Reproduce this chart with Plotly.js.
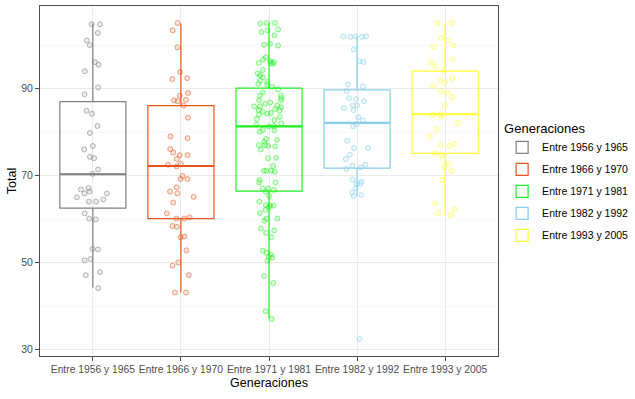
<!DOCTYPE html>
<html>
<head>
<meta charset="utf-8">
<script src="https://cdn.plot.ly/plotly-3.0.1.min.js"></script>
<style>
html,body{margin:0;padding:0;background:#fff;}
#chart{width:635px;height:399px;}
</style>
</head>
<body>
<div id="chart"></div>
<script>
// ---- data ----
const categories = ['Entre 1956 y 1965','Entre 1966 y 1970','Entre 1971 y 1981','Entre 1982 y 1992','Entre 1993 y 2005'];
const colors = ['#808080','#E8541E','#22F022','#87CEEB','#FFFF33'];

// box statistics
const q1Vals     = [62.5, 60.1, 66.4, 71.7, 75.1];
const medianVals = [70.3, 72.2, 81.3, 82.1, 84.1];
const q3Vals     = [87.0, 86.1, 90.1, 89.7, 94.0];
const lowerVals  = [44.2, 43.1, 37.1, 65.3, 60.9];
const upperVals  = [105.0, 105.0, 105.1, 102.1, 105.1];

// individual (jittered) observations
const gen1956 = [104.8,104.8,102.8,101.1,100.0,95.5,96.1,94.0,90.3,88.7,84.9,84.2,81.4,79.8,76.8,76.0,74.3,74.0,71.4,70.4,
  67.1,66.8,66.3,65.9,65.9,65.0,64.5,64.0,64.0,61.3,60.1,59.9,53.1,53.0,50.8,50.5,47.8,47.1,44.1];
const gen1966 = [105.1,103.4,99.5,93.8,92.4,92.2,89.0,88.4,87.4,87.3,87.1,86.1,83.3,79.0,78.6,76.1,75.3,74.7,74.7,73.8,
  72.7,72.5,72.1,69.9,69.2,69.2,67.3,66.3,65.9,65.1,63.8,61.3,60.4,60.1,60.1,58.4,58.2,56.0,55.8,52.8,50.0,49.3,47.1,43.1,43.1];
const gen1971 = [104.97,105.1,105.1,103.6,103.4,103.0,102.2,100.3,99.9,100.1,97.2,96.7,95.9,96.1,95.9,96.3,95.7,94.3,92.6,93.1,
  91.8,91.1,90.9,90.4,89.1,87.8,87.3,88.4,88.4,87.3,86.8,85.9,86.1,85.9,85.3,85.0,84.7,85.7,85.1,84.0,
  84.2,84.4,82.8,83.0,81.7,81.4,81.3,80.5,80.1,80.4,78.4,78.2,77.8,76.8,77.0,76.7,76.0,77.0,74.0,74.1,
  72.2,71.1,71.1,71.1,70.9,69.0,68.4,68.4,67.0,67.0,66.7,66.3,65.3,64.0,63.1,63.1,63.2,62.7,62.1,61.4,
  60.1,60.1,59.6,57.8,57.4,56.8,55.8,52.3,52.7,51.8,51.1,51.3,50.4,46.9,45.3,38.8,37.0,
  93.5,91.5,89.8,86.5,83.5,82.0];
const gen1982 = [101.9,102.0,102.0,102.0,101.9,99.0,96.3,96.1,90.9,90.5,89.4,87.8,87.6,87.1,86.1,86.2,85.5,85.0,83.4,82.7,
  81.9,81.3,78.0,76.3,76.3,74.8,73.8,72.5,72.3,71.9,71.5,69.1,68.6,68.1,68.1,67.1,66.1,65.5,65.3,32.4];
const gen1993 = [105.1,105.1,101.7,101.1,99.9,99.6,96.7,96.1,95.1,94.0,92.4,91.9,91.4,90.7,89.4,89.1,88.0,86.1,84.0,84.0,
  83.5,82.1,80.7,79.0,77.3,76.9,76.8,75.1,74.7,72.7,71.9,71.1,69.0,63.6,62.2,61.3,60.9];
const groups = [gen1956, gen1966, gen1971, gen1982, gen1993];

const yTickVals = [30, 50, 70, 90];

function rgba(hex, a){
  const n = parseInt(hex.slice(1), 16);
  return 'rgba(' + ((n>>16)&255) + ',' + ((n>>8)&255) + ',' + (n&255) + ',' + a + ')';
}

const BOXW = 0.75;
const traces = [];
categories.forEach((cat, i) => {
  traces.push({
    type: 'box',
    name: cat,
    x: [cat],
    q1: [q1Vals[i]], median: [medianVals[i]], q3: [q3Vals[i]],
    lowerfence: [lowerVals[i]], upperfence: [upperVals[i]],
    boxpoints: false,
    width: BOXW,
    fillcolor: 'rgba(255,255,255,0)',
    line: {color: colors[i], width: 1.2},
    whiskerwidth: 0,
    legendgroup: 'g' + i,
    hoverinfo: 'skip'
  });
});
// thicker median line (degenerate box at the median)
categories.forEach((cat, i) => {
  traces.push({
    type: 'box',
    name: cat,
    x: [cat],
    q1: [medianVals[i]], median: [medianVals[i]], q3: [medianVals[i]],
    lowerfence: [medianVals[i]], upperfence: [medianVals[i]],
    boxpoints: false,
    width: BOXW,
    fillcolor: 'rgba(255,255,255,0)',
    line: {color: colors[i], width: 2.2},
    whiskerwidth: 0,
    showlegend: false,
    legendgroup: 'g' + i,
    hoverinfo: 'skip'
  });
});
categories.forEach((cat, i) => {
  traces.push({
    type: 'box',
    name: cat,
    x: groups[i].map(() => cat),
    y: groups[i],
    boxpoints: 'all',
    jitter: 0.5,
    pointpos: 0,
    width: BOXW,
    fillcolor: 'rgba(255,255,255,0)',
    line: {color: 'rgba(0,0,0,0)', width: 0},
    whiskerwidth: 0,
    marker: {symbol: 'circle', size: 5, color: rgba(colors[i], 0.15),
             line: {color: rgba(colors[i], 0.55), width: 1}},
    showlegend: false,
    legendgroup: 'g' + i
  });
});

const layout = {
  width: 635, height: 399,
  margin: {l: 40, r: 137, t: 6, b: 43, autoexpand: false},
  paper_bgcolor: '#fff', plot_bgcolor: '#fff',
  font: {family: 'Liberation Sans, Arial, sans-serif', color: '#000'},
  boxmode: 'overlay',
  showlegend: true,
  legend: {
    x: 1.009, y: 0.686, xanchor: 'left', yanchor: 'top',
    title: {text: 'Generaciones', font: {size: 13, color: '#000'}},
    font: {size: 10.5, color: '#000'},
    tracegroupgap: 3,
    traceorder: 'grouped'
  },
  xaxis: {
    type: 'category',
    categoryorder: 'array', categoryarray: categories,
    range: [-0.6, 4.6],
    tickangle: 0,
    showgrid: true, gridcolor: '#ebebeb', gridwidth: 1,
    showline: true, mirror: true, linecolor: '#4d4d4d', linewidth: 1,
    ticks: 'outside', ticklen: 4, tickcolor: '#4d4d4d',
    tickfont: {size: 10.3, color: '#4d4d4d'},
    title: {text: 'Generaciones', font: {size: 12.5, color: '#000'}, standoff: 3},
    zeroline: false, fixedrange: true
  },
  yaxis: {
    range: [28.5, 109.0],
    tickvals: yTickVals,
    showgrid: true, gridcolor: '#ebebeb', gridwidth: 1,
    minor: {dtick: 10, tick0: 30, showgrid: true, gridcolor: '#f4f4f4', gridwidth: 0.6},
    showline: true, mirror: true, linecolor: '#4d4d4d', linewidth: 1,
    ticks: 'outside', ticklen: 4, tickcolor: '#4d4d4d',
    tickfont: {size: 10.5, color: '#4d4d4d'},
    title: {text: 'Total', font: {size: 12.5, color: '#000'}, standoff: 1},
    zeroline: false, fixedrange: true
  }
};

Plotly.newPlot('chart', traces, layout, {displayModeBar: false, staticPlot: true});
</script>
</body>
</html>
